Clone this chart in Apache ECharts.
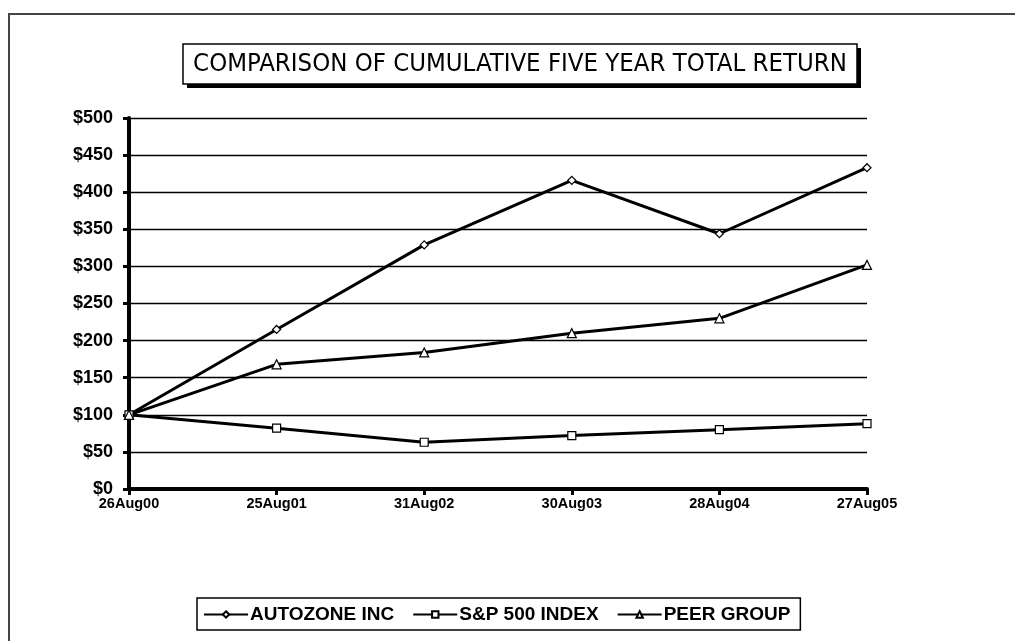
<!DOCTYPE html>
<html>
<head>
<meta charset="utf-8">
<style>
  html, body { margin: 0; padding: 0; background: #fff; }
  #chart { width: 1015px; height: 641px; }
</style>
<script src="https://cdn.jsdelivr.net/npm/echarts@6/dist/echarts.min.js"></script>
</head>
<body>
<div id="chart"></div>
<script>
const dates = ['26Aug00', '25Aug01', '31Aug02', '30Aug03', '28Aug04', '27Aug05'];
const autozone = [100, 215, 329, 416, 344, 433];
const sp500 = [100, 82, 63, 72, 80, 88];
const peerGroup = [100, 168, 184, 210, 230, 302];

const labelFont = '"Liberation Sans", Arial, sans-serif';
const narrowFont = '"Liberation Sans Narrow", "DejaVu Sans Condensed", sans-serif';

const chart = echarts.init(document.getElementById('chart'));

function lineSeries(name, data, symbol) {
  return {
    name: name,
    type: 'line',
    data: data,
    symbol: symbol,
    symbolSize: symbol === 'triangle' ? 9 : 8,
    showAllSymbol: true,
    lineStyle: { color: '#000', width: 3 },
    itemStyle: { color: '#fff', borderColor: '#000', borderWidth: 1.2 },
    emphasis: { disabled: true },
    z: 3
  };
}

chart.setOption({
  animation: false,
  backgroundColor: '#fff',
  graphic: [
    // outer frame, runs off the right and bottom edges
    { type: 'rect', shape: { x: 9, y: 14, width: 1100, height: 700 },
      style: { fill: 'none', stroke: '#444', lineWidth: 2 }, silent: true },
    // title box shadow + box
    { type: 'rect', shape: { x: 187, y: 48, width: 674, height: 40 },
      style: { fill: '#000' }, silent: true },
    { type: 'rect', shape: { x: 183, y: 44, width: 674, height: 40 },
      style: { fill: '#fff', stroke: '#000', lineWidth: 1.5 }, silent: true }
  ],
  title: {
    text: 'COMPARISON OF CUMULATIVE FIVE YEAR TOTAL RETURN',
    left: 520,
    top: 64,
    textAlign: 'center',
    textVerticalAlign: 'middle',
    padding: 0,
    textStyle: { fontFamily: narrowFont, fontSize: 25.5, fontWeight: 'normal', color: '#000' }
  },
  legend: {
    data: ['AUTOZONE INC', 'S&P 500 INDEX', 'PEER GROUP'],
    left: 197,
    top: 598,
    padding: [7, 10, 6, 6],
    borderColor: '#000',
    borderWidth: 1.5,
    itemWidth: 44,
    itemHeight: 8,
    itemGap: 18,
    textStyle: { fontFamily: labelFont, fontWeight: 'bold', fontSize: 19, color: '#000', padding: [0, 0, 0, -3] }
  },
  grid: { left: 129, right: 148, top: 118, bottom: 152 },
  xAxis: {
    type: 'category',
    data: dates,
    boundaryGap: false,
    axisLine: { lineStyle: { color: '#000', width: 4 } },
    axisTick: { show: true, length: 6, lineStyle: { color: '#000', width: 3 } },
    axisLabel: { color: '#000', fontFamily: labelFont, fontWeight: 'bold', fontSize: 14.5, margin: 7 },
    splitLine: { show: false }
  },
  yAxis: {
    type: 'value',
    min: 0,
    max: 500,
    interval: 50,
    axisLine: { show: true, lineStyle: { color: '#000', width: 4 } },
    axisTick: { show: true, length: 6, lineStyle: { color: '#000', width: 3 } },
    axisLabel: { color: '#000', fontFamily: labelFont, fontWeight: 'bold', fontSize: 18, margin: 16,
      formatter: function (v) { return '$' + v; } },
    splitLine: { lineStyle: { color: '#000', width: 1.4 } }
  },
  series: [
    lineSeries('AUTOZONE INC', autozone, 'diamond'),
    lineSeries('S&P 500 INDEX', sp500, 'rect'),
    lineSeries('PEER GROUP', peerGroup, 'triangle')
  ]
});
</script>
</body>
</html>
